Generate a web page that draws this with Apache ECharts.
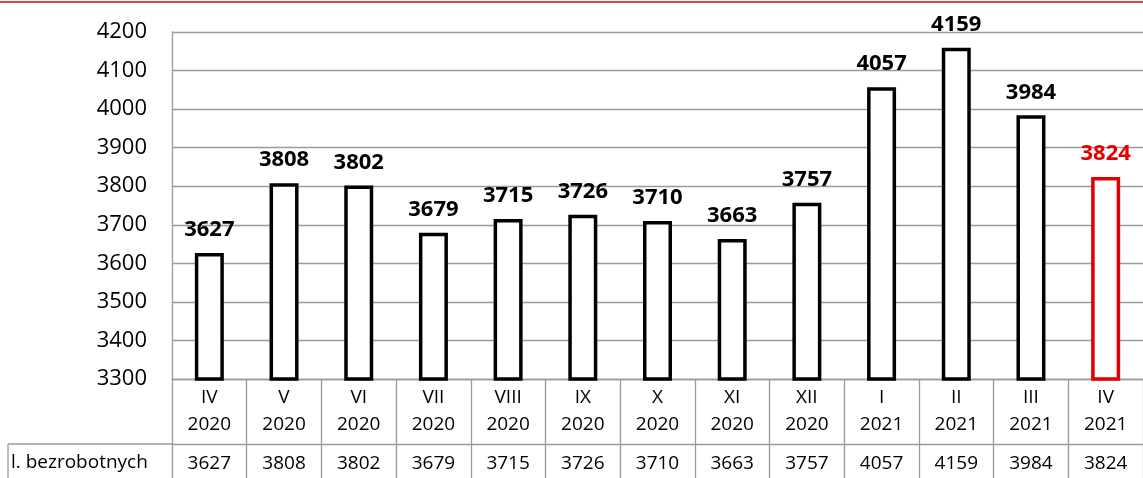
<!DOCTYPE html>
<html><head><meta charset="utf-8">
<script src="https://cdn.jsdelivr.net/npm/echarts@6/dist/echarts.min.js"></script>
<style>html,body{margin:0;padding:0;background:#fff}#c{width:1143px;height:478px}</style>
</head><body><div id="c"></div>
<script>
const months = ["IV","V","VI","VII","VIII","IX","X","XI","XII","I","II","III","IV"];
const years = ["2020","2020","2020","2020","2020","2020","2020","2020","2020","2021","2021","2021","2021"];
const values = [3627,3808,3802,3679,3715,3726,3710,3663,3757,4057,4159,3984,3824];
const rowLabel = "l. bezrobotnych";
const yTicks = {min:3300, max:4200, interval:100};

const FONT = "Open Sans";
const GRAY = '#9a9a9a';
const cats = months.map((m,i)=>m+"\n"+years[i]);
const last = values.length-1;

const chart = echarts.init(document.getElementById('c'), null, {renderer:'canvas'});
chart.setOption({
  animation:false,
  textStyle:{fontFamily:FONT},
  grid:{left:172, right:-9, top:32, bottom:99, containLabel:false},
  xAxis:[{
    type:'category', data:cats, position:'bottom',
    axisLine:{show:true, lineStyle:{color:GRAY, width:1.3}},
    axisTick:{show:true, length:99, lineStyle:{color:GRAY, width:1.3}},
    axisLabel:{fontFamily:FONT, fontSize:19, color:'#000', lineHeight:27, margin:5, interval:0}
  },{
    type:'category', data:values.map(String), position:'bottom', offset:65,
    axisLine:{show:true, lineStyle:{color:GRAY, width:1.3}},
    axisTick:{show:false},
    axisLabel:{fontFamily:FONT, fontSize:19, color:'#000', margin:10, interval:0}
  }],
  yAxis:{
    type:'value', min:yTicks.min, max:yTicks.max, interval:yTicks.interval,
    axisLine:{show:true, lineStyle:{color:GRAY, width:1.3}},
    axisTick:{show:false},
    splitLine:{lineStyle:{color:GRAY, width:1.3}},
    axisLabel:{fontFamily:FONT, fontSize:22, color:'#000', margin:25, formatter:v=>String(v)}
  },
  series:[{
    type:'bar', xAxisIndex:0, barWidth:29,
    data:values.map((v,i)=>({value:v, itemStyle:{borderColor: i===last?'#e00000':'#000'},
      label:{color: i===last?'#e00000':'#000'}})),
    itemStyle:{color:'#fff', borderColor:'#000', borderWidth:3.5},
    label:{show:true, position:'top', distance:12, fontFamily:FONT, fontSize:22, fontWeight:'bold'}
  }],
  graphic:[
    {type:'line', shape:{x1:0,y1:2,x2:1143,y2:2}, style:{stroke:'#e00000', lineWidth:1.5}},
    {type:'line', shape:{x1:8,y1:444,x2:172,y2:444}, style:{stroke:GRAY, lineWidth:1.3}},
    {type:'line', shape:{x1:8,y1:444,x2:8,y2:478}, style:{stroke:GRAY, lineWidth:1.3}},
    {type:'text', left:11, top:453, style:{text:rowLabel, font:"19px Open Sans", fill:'#000'}}
  ]
});
</script></body></html>
